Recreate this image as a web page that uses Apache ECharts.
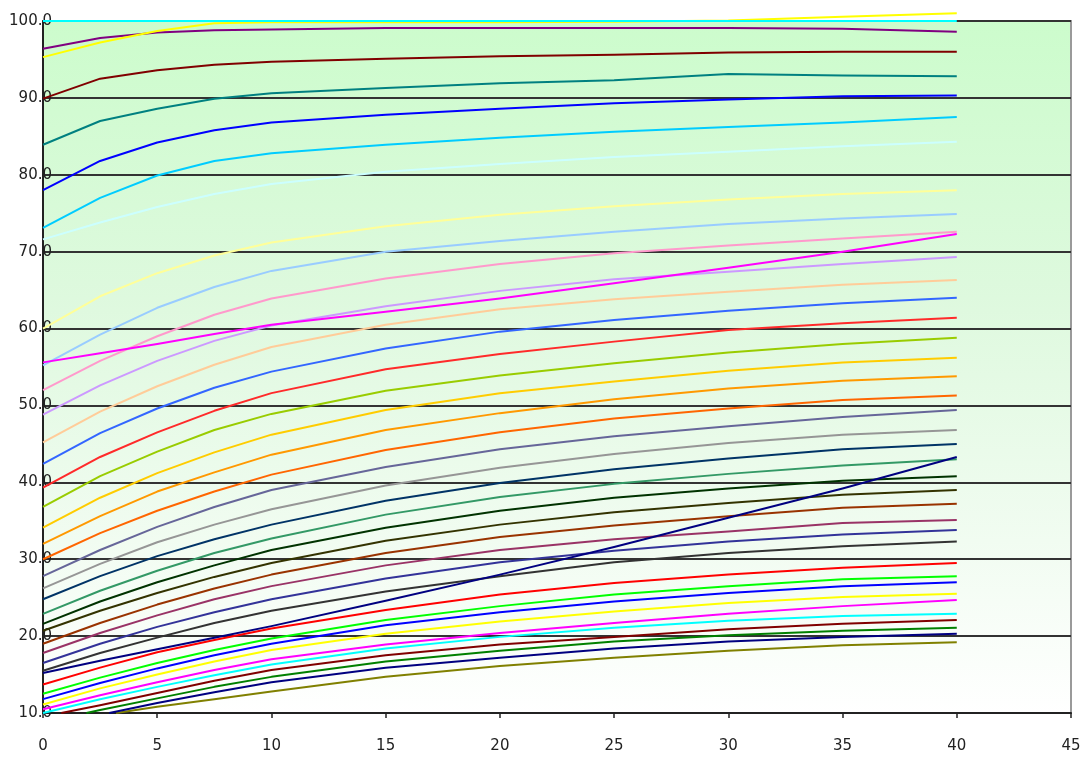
<!DOCTYPE html>
<html>
<head>
<meta charset="utf-8">
<script src="https://cdn.jsdelivr.net/npm/echarts@6/dist/echarts.min.js"></script>
<style>
html,body{margin:0;padding:0;background:#ffffff;}
#chart{width:1092px;height:763px;}
</style>
</head>
<body>
<div id="chart"></div>
<script>
// shared x positions of the read values
const X = [0, 2.5, 5, 7.5, 10, 15, 20, 25, 30, 35, 40];

// series values at the x positions above
const yellowTop   = [95.3, 97.2, 98.7, 99.7, 99.85, 99.85, 99.85, 99.9, 100.05, 100.55, 101.0];
const cyan100     = [100, 100, 100, 100, 100, 100, 100, 100, 100, 100, 100];
const purple      = [96.4, 97.8, 98.5, 98.8, 98.9, 99.1, 99.1, 99.1, 99.1, 99.0, 98.6];
const maroonTop   = [89.9, 92.5, 93.6, 94.3, 94.7, 95.1, 95.4, 95.6, 95.9, 96.0, 96.0];
const teal        = [83.9, 87.0, 88.6, 89.9, 90.6, 91.3, 91.9, 92.3, 93.1, 92.9, 92.8];
const blueTop     = [78.0, 81.8, 84.2, 85.8, 86.8, 87.8, 88.6, 89.3, 89.8, 90.2, 90.3];
const sky         = [73.1, 77.0, 79.9, 81.8, 82.8, 83.9, 84.8, 85.6, 86.2, 86.8, 87.5];
const paleCyan    = [71.6, 73.8, 75.8, 77.5, 78.8, 80.4, 81.4, 82.3, 83.0, 83.7, 84.3];
const lightYellow = [60.0, 64.2, 67.2, 69.5, 71.2, 73.3, 74.8, 75.9, 76.8, 77.5, 78.0];
const lightBlue   = [55.2, 59.2, 62.7, 65.4, 67.5, 70.0, 71.4, 72.6, 73.6, 74.3, 74.9];
const pink        = [52.0, 55.8, 59.0, 61.8, 63.9, 66.5, 68.4, 69.8, 70.8, 71.7, 72.6];
const magentaTop  = [55.6, 56.8, 58.0, 59.3, 60.5, 62.2, 63.9, 65.9, 67.9, 70.0, 72.3];
const lavender    = [48.8, 52.6, 55.8, 58.4, 60.4, 62.9, 64.9, 66.4, 67.4, 68.4, 69.3];
const peach       = [45.2, 49.2, 52.5, 55.3, 57.6, 60.5, 62.5, 63.8, 64.8, 65.7, 66.3];
const royalBlue   = [42.4, 46.4, 49.6, 52.3, 54.4, 57.4, 59.6, 61.1, 62.3, 63.3, 64.0];
const redTop      = [39.3, 43.3, 46.5, 49.3, 51.6, 54.7, 56.7, 58.3, 59.8, 60.7, 61.4];
const yellowGreen = [36.8, 40.8, 44.0, 46.8, 48.9, 51.9, 53.9, 55.5, 56.9, 58.0, 58.8];
const gold        = [34.1, 38.0, 41.2, 43.9, 46.2, 49.4, 51.6, 53.1, 54.5, 55.6, 56.2];
const orange      = [32.0, 35.6, 38.8, 41.3, 43.6, 46.8, 49.0, 50.8, 52.2, 53.2, 53.8];
const orangeRed   = [30.0, 33.4, 36.3, 38.8, 41.0, 44.2, 46.5, 48.3, 49.6, 50.7, 51.3];
const slate       = [27.8, 31.2, 34.2, 36.8, 39.0, 42.0, 44.3, 46.0, 47.3, 48.5, 49.4];
const gray        = [26.2, 29.4, 32.2, 34.5, 36.5, 39.6, 41.9, 43.7, 45.1, 46.2, 46.8];
const darkBlue    = [24.8, 27.8, 30.4, 32.6, 34.5, 37.6, 39.9, 41.7, 43.1, 44.3, 45.0];
const seaGreen    = [22.9, 25.9, 28.5, 30.8, 32.7, 35.8, 38.1, 39.8, 41.1, 42.2, 43.0];
const darkGreen   = [21.6, 24.5, 27.0, 29.2, 31.2, 34.1, 36.3, 38.0, 39.2, 40.2, 40.8];
const darkOlive   = [20.7, 23.3, 25.6, 27.7, 29.5, 32.4, 34.5, 36.1, 37.3, 38.4, 39.0];
const brown       = [19.0, 21.7, 24.1, 26.2, 28.0, 30.8, 32.9, 34.4, 35.6, 36.7, 37.2];
const plum        = [17.8, 20.4, 22.7, 24.8, 26.5, 29.2, 31.2, 32.6, 33.6, 34.7, 35.1];
const indigo      = [16.5, 19.0, 21.2, 23.1, 24.8, 27.5, 29.6, 31.1, 32.3, 33.2, 33.8];
const charcoal    = [15.5, 17.8, 19.8, 21.7, 23.3, 25.8, 27.8, 29.6, 30.8, 31.7, 32.3];
const navyDiag    = [15.2, 16.8, 18.3, 19.8, 21.3, 24.6, 28.0, 31.6, 35.4, 39.2, 43.3];
const red         = [13.7, 15.9, 17.9, 19.5, 21.0, 23.4, 25.4, 26.9, 28.0, 28.9, 29.5];
const green       = [12.5, 14.6, 16.5, 18.2, 19.7, 22.1, 23.9, 25.4, 26.5, 27.4, 27.8];
const blue        = [11.8, 13.9, 15.8, 17.5, 19.0, 21.4, 23.1, 24.5, 25.6, 26.5, 27.0];
const yellow      = [11.1, 13.2, 15.0, 16.7, 18.2, 20.3, 21.9, 23.2, 24.3, 25.1, 25.5];
const magenta     = [10.5, 12.3, 14.0, 15.6, 17.0, 18.9, 20.4, 21.7, 22.9, 23.9, 24.7];
const cyan        = [10.0, 11.8, 13.4, 14.9, 16.3, 18.4, 19.9, 21.1, 22.0, 22.6, 22.9];
const maroon      = [null, 11.0, 12.6, 14.2, 15.6, 17.5, 18.9, 19.9, 20.9, 21.6, 22.1];
const darkGreen2  = [null, 10.4, 11.9, 13.4, 14.7, 16.7, 18.1, 19.3, 20.1, 20.7, 21.1];
const navy        = [null, null, 11.3, 12.7, 14.0, 15.9, 17.2, 18.4, 19.3, 19.9, 20.3];
const olive       = [null, null, 10.8, 11.8, 12.8, 14.7, 16.1, 17.2, 18.1, 18.8, 19.2];

// where the lowest lines leave the x axis (value 10)
const axisStarts = {maroon: 0.8, darkGreen2: 1.9, navy: 2.9, olive: 3.2};

// tick labels
const xTicks = [0, 5, 10, 15, 20, 25, 30, 35, 40, 45];
const yTicks = [10, 20, 30, 40, 50, 60, 70, 80, 90, 100];

const lines = [
  ['olive', olive, '#808000'],
  ['navy', navy, '#000080'],
  ['darkGreen2', darkGreen2, '#008000'],
  ['maroon', maroon, '#800000'],
  ['cyan', cyan, '#00ffff'],
  ['magenta', magenta, '#ff00ff'],
  ['yellow', yellow, '#ffff00'],
  ['blue', blue, '#0000ff'],
  ['green', green, '#00ff00'],
  ['red', red, '#ff0000'],
  ['charcoal', charcoal, '#333333'],
  ['indigo', indigo, '#333399'],
  ['plum', plum, '#993366'],
  ['brown', brown, '#993300'],
  ['darkOlive', darkOlive, '#333300'],
  ['darkGreen', darkGreen, '#003300'],
  ['seaGreen', seaGreen, '#339966'],
  ['darkBlue', darkBlue, '#003366'],
  ['gray', gray, '#969696'],
  ['slate', slate, '#666699'],
  ['navyDiag', navyDiag, '#000080'],
  ['orangeRed', orangeRed, '#ff6600'],
  ['orange', orange, '#ff9900'],
  ['gold', gold, '#ffcc00'],
  ['yellowGreen', yellowGreen, '#99cc00'],
  ['redTop', redTop, '#ff2a2a'],
  ['royalBlue', royalBlue, '#3366ff'],
  ['peach', peach, '#ffcc99'],
  ['lavender', lavender, '#cc99ff'],
  ['pink', pink, '#ff99cc'],
  ['lightBlue', lightBlue, '#99ccff'],
  ['magentaTop', magentaTop, '#ff00ff'],
  ['lightYellow', lightYellow, '#ffff99'],
  ['paleCyan', paleCyan, '#ccffff'],
  ['sky', sky, '#00ccff'],
  ['blueTop', blueTop, '#0000ff'],
  ['teal', teal, '#008080'],
  ['maroonTop', maroonTop, '#800000'],
  ['purple', purple, '#800080'],
  ['yellowTop', yellowTop, '#ffff00'],
  ['cyan100', cyan100, '#00ffff']
];

function buildData(name, ys) {
  const d = [];
  if (axisStarts[name] !== undefined) d.push([axisStarts[name], yTicks[0]]);
  X.forEach((x, i) => { if (ys[i] !== null) d.push([x, ys[i]]); });
  return d;
}

const series = lines.map(([name, ys, color]) => ({
  name: name,
  type: 'line',
  data: buildData(name, ys),
  showSymbol: false,
  symbol: 'none',
  smooth: false,
  clip: name !== 'yellowTop',
  lineStyle: {color: color, width: 2, join: 'round'},
  itemStyle: {color: color},
  z: 3
}));

const chart = echarts.init(document.getElementById('chart'), null, {renderer: 'canvas'});
chart.setOption({
  animation: false,
  backgroundColor: '#ffffff',
  grid: {
    left: 43, right: 21, top: 21, bottom: 50,
    show: true,
    borderColor: '#9a9a9a',
    borderWidth: 2,
    backgroundColor: {
      type: 'linear', x: 0, y: 0, x2: 0, y2: 1,
      colorStops: [
        {offset: 0, color: '#ccfccc'},
        {offset: 0.4, color: '#def9de'},
        {offset: 0.75, color: '#f1fcf1'},
        {offset: 1, color: '#ffffff'}
      ]
    }
  },
  xAxis: {
    type: 'value',
    min: xTicks[0], max: xTicks[xTicks.length - 1], interval: 5,
    axisLine: {show: true, lineStyle: {color: '#222', width: 2}},
    axisTick: {show: true, length: 5, lineStyle: {color: '#222', width: 1.5}},
    splitLine: {show: false},
    axisLabel: {
      margin: 26, color: '#222', fontSize: 15, fontFamily: 'DejaVu Sans',
      formatter: v => String(v)
    }
  },
  yAxis: {
    type: 'value',
    min: yTicks[0], max: yTicks[yTicks.length - 1], interval: 10,
    axisLine: {show: true, lineStyle: {color: '#222', width: 2}},
    axisTick: {show: false},
    splitLine: {show: true, lineStyle: {color: '#333333', width: 2}},
    axisLabel: {
      margin: -9, color: '#222', fontSize: 15, fontFamily: 'DejaVu Sans',
      formatter: v => v.toFixed(1)
    }
  },
  series: series
});
</script>
</body>
</html>
